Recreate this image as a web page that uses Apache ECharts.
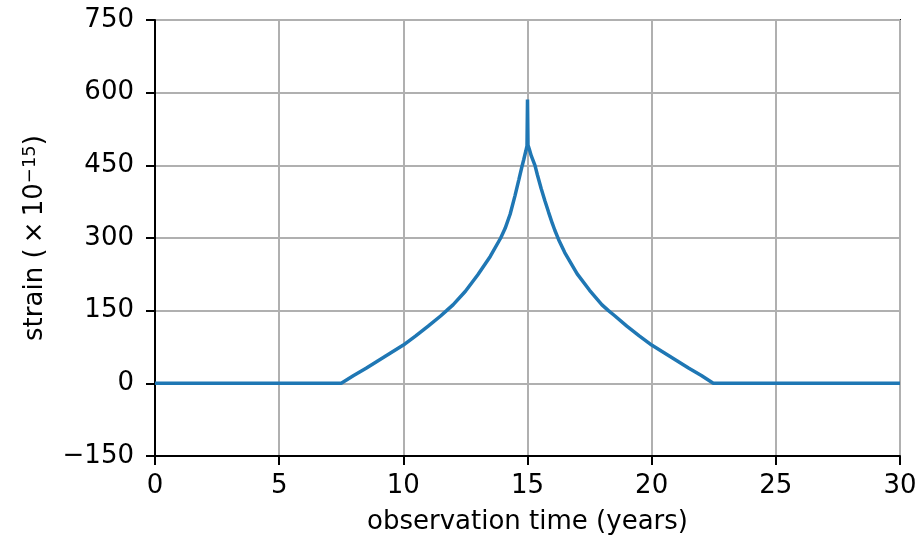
<!DOCTYPE html>
<html>
<head>
<meta charset="utf-8">
<script src="https://cdn.jsdelivr.net/npm/echarts@6/dist/echarts.min.js"></script>
<style>html,body{margin:0;padding:0;background:#fff}#c{width:920px;height:540px}</style>
</head>
<body>
<div id="c"></div>
<script>
// observation time (years)
var times = [0, 7.5, 8, 8.5, 9, 9.5, 10, 10.5, 11, 11.5, 11.74, 12, 12.5, 13, 13.5, 13.92, 14.1, 14.3, 14.5, 14.65, 14.77, 14.85, 14.93, 14.98, 15,
             15.02, 15.08, 15.15, 15.3, 15.4, 15.55, 15.7, 15.85, 16.0, 16.1, 16.25, 16.5, 17, 17.5, 18, 18.26, 18.5, 19, 19.5, 20, 20.5, 21, 21.5, 22, 22.48, 30];
// strain (x10^-15)
var strain = [0, 0, 16, 31, 47, 63, 79, 98, 118, 139, 150, 162, 190, 224, 262, 300, 320, 349, 388, 420, 446, 462, 479, 490, 586,
              492, 482, 470, 450, 430, 402, 377, 353, 330, 316, 297, 270, 226, 192, 162, 150, 140, 118, 98, 79, 63, 47, 31, 16, 0, 0];
var xTicks = [0, 5, 10, 15, 20, 25, 30];
var yTicks = [-150, 0, 150, 300, 450, 600, 750];

var data = times.map(function (t, i) { return [t, strain[i]]; });
var FONT = 'DejaVu Sans';
var FS = 26;
var fmt = function (v) { return String(v).replace('-', '\u2212'); };

var chart = echarts.init(document.getElementById('c'), null, { renderer: 'canvas' });
chart.setOption({
  animation: false,
  backgroundColor: '#fff',
  grid: { left: 155, right: 20, top: 20, bottom: 83, show: true, borderColor: '#000', borderWidth: 2, backgroundColor: 'transparent' },
  xAxis: {
    type: 'value', min: xTicks[0], max: xTicks[xTicks.length - 1], interval: 5,
    name: 'observation time (years)', nameLocation: 'middle', nameGap: 53,
    nameTextStyle: { fontFamily: FONT, fontSize: FS, color: '#000' },
    axisLine: { show: true, onZero: false, lineStyle: { color: '#000', width: 2 } },
    axisTick: { show: true, length: 9, lineStyle: { color: '#000', width: 2 } },
    axisLabel: { fontFamily: FONT, fontSize: FS, color: '#000', margin: 17, formatter: fmt },
    splitLine: { show: true, lineStyle: { color: '#b0b0b0', width: 2 } }
  },
  yAxis: {
    type: 'value', min: yTicks[0], max: yTicks[yTicks.length - 1], interval: 150,
    name: 'strain (\u2009\u00d7\u200910{sup|\u221215})', nameLocation: 'middle', nameGap: 106, nameRotate: 90,
    nameTextStyle: { fontFamily: FONT, fontSize: FS, color: '#000',
      rich: { sup: { fontFamily: FONT, fontSize: 18, color: '#000', verticalAlign: 'bottom', padding: [0, 0, 10, 0] } } },
    axisLine: { show: true, onZero: false, lineStyle: { color: '#000', width: 2 } },
    axisTick: { show: true, length: 9, lineStyle: { color: '#000', width: 2 } },
    axisLabel: { fontFamily: FONT, fontSize: FS, color: '#000', margin: 21, formatter: fmt },
    splitLine: { show: true, lineStyle: { color: '#b0b0b0', width: 2 } }
  },
  series: [{
    type: 'line', data: data, showSymbol: false, smooth: false,
    lineStyle: { color: '#1f77b4', width: 3.5 }, itemStyle: { color: '#1f77b4' }
  }]
});
</script>
</body>
</html>
